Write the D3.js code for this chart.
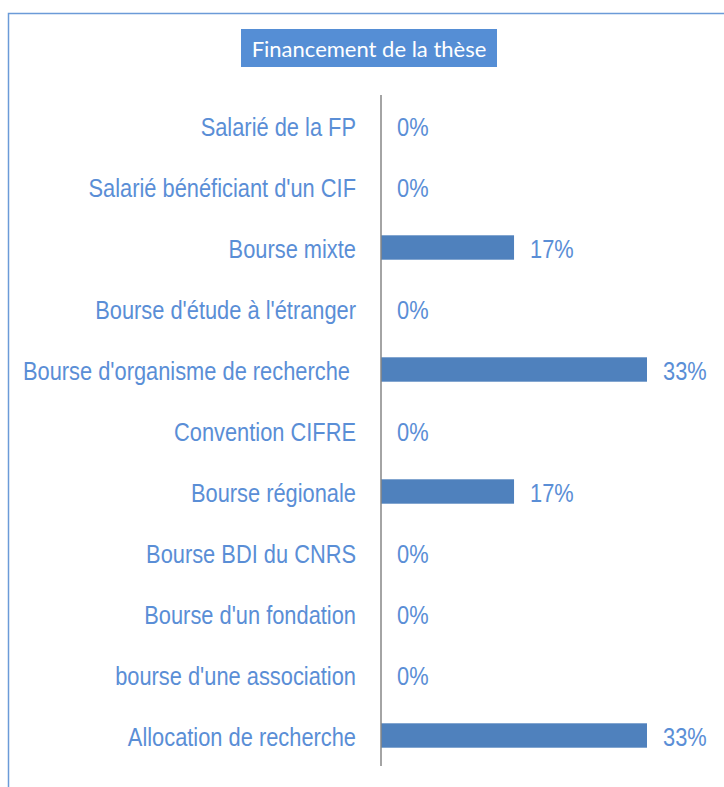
<!doctype html>
<html>
  <head>
    <script src="https://cdnjs.cloudflare.com/ajax/libs/d3/7.8.5/d3.min.js"></script>
    <style>
      body { margin: 0; background: #fff; }
      text { white-space: pre; }
    </style>
  </head>
  <body>
    <svg width="724" height="787"></svg>

    <script>
        var categories = [
            "Salarié de la FP",
            "Salarié bénéficiant d'un CIF",
            "Bourse mixte",
            "Bourse d'étude à l'étranger",
            "Bourse d'organisme de recherche ",
            "Convention CIFRE",
            "Bourse régionale",
            "Bourse BDI du CNRS",
            "Bourse d'un fondation",
            "bourse d'une association",
            "Allocation de recherche"
        ];
        var values = [0, 0, 16.67, 0, 33.33, 0, 16.67, 0, 0, 0, 33.33];
        var valueLabels = ["0%", "0%", "17%", "0%", "33%", "0%", "17%", "0%", "0%", "0%", "33%"];
        var title = "Financement de la thèse";

        var svg = d3.select("svg");

        // outer frame (runs off the right and bottom edges)
        svg.append("rect")
            .attr("x", 8.5).attr("y", 13.5)
            .attr("width", 760).attr("height", 800)
            .attr("fill", "none")
            .attr("stroke", "#6b9bd8")
            .attr("stroke-width", 1.5);

        // title box
        svg.append("rect")
            .attr("x", 241).attr("y", 29)
            .attr("width", 256).attr("height", 38)
            .attr("fill", "#558ed5");
        svg.append("text")
            .attr("x", 369).attr("y", 56.5)
            .attr("text-anchor", "middle")
            .style("font-family", "Lato, 'Open Sans', sans-serif")
            .style("font-size", "22px")
            .attr("fill", "#fff")
            .text(title);

        var y = d3.scaleBand()
            .domain(categories)
            .range([95, 766])
            .paddingInner(0.6)
            .paddingOuter(0.3);

        var x = d3.scaleLinear()
            .domain([0, 33.33])
            .range([381, 647]);

        var rows = svg.selectAll("g.row")
            .data(categories)
            .enter()
            .append("g")
            .attr("class", "row");

        rows.append("rect")
            .attr("x", x(0))
            .attr("y", d => y(d))
            .attr("height", y.bandwidth())
            .attr("width", (d, i) => x(values[i]) - x(0))
            .attr("fill", "#4f81bd");

        // narrow-looking labels: Arial-like font squeezed horizontally
        rows.append("text")
            .attr("transform", d => "translate(356," + (y(d) + y.bandwidth() / 2 + 10.5) + ") scale(0.84,1)")
            .attr("text-anchor", "end")
            .style("font-family", "'Liberation Sans', Arial, sans-serif")
            .style("font-size", "26px")
            .attr("fill", "#5a8ed6")
            .text(d => d);

        rows.append("text")
            .attr("transform", (d, i) => "translate(" + (x(values[i]) + 16) + "," + (y(d) + y.bandwidth() / 2 + 10.5) + ") scale(0.84,1)")
            .style("font-family", "'Liberation Sans', Arial, sans-serif")
            .style("font-size", "26px")
            .attr("fill", "#5a8ed6")
            .text((d, i) => valueLabels[i]);

        // category axis line
        svg.append("line")
            .attr("x1", x(0)).attr("x2", x(0))
            .attr("y1", 95).attr("y2", 766)
            .attr("stroke", "#868686")
            .attr("stroke-width", 1.5);
    </script>
  </body>
</html>
